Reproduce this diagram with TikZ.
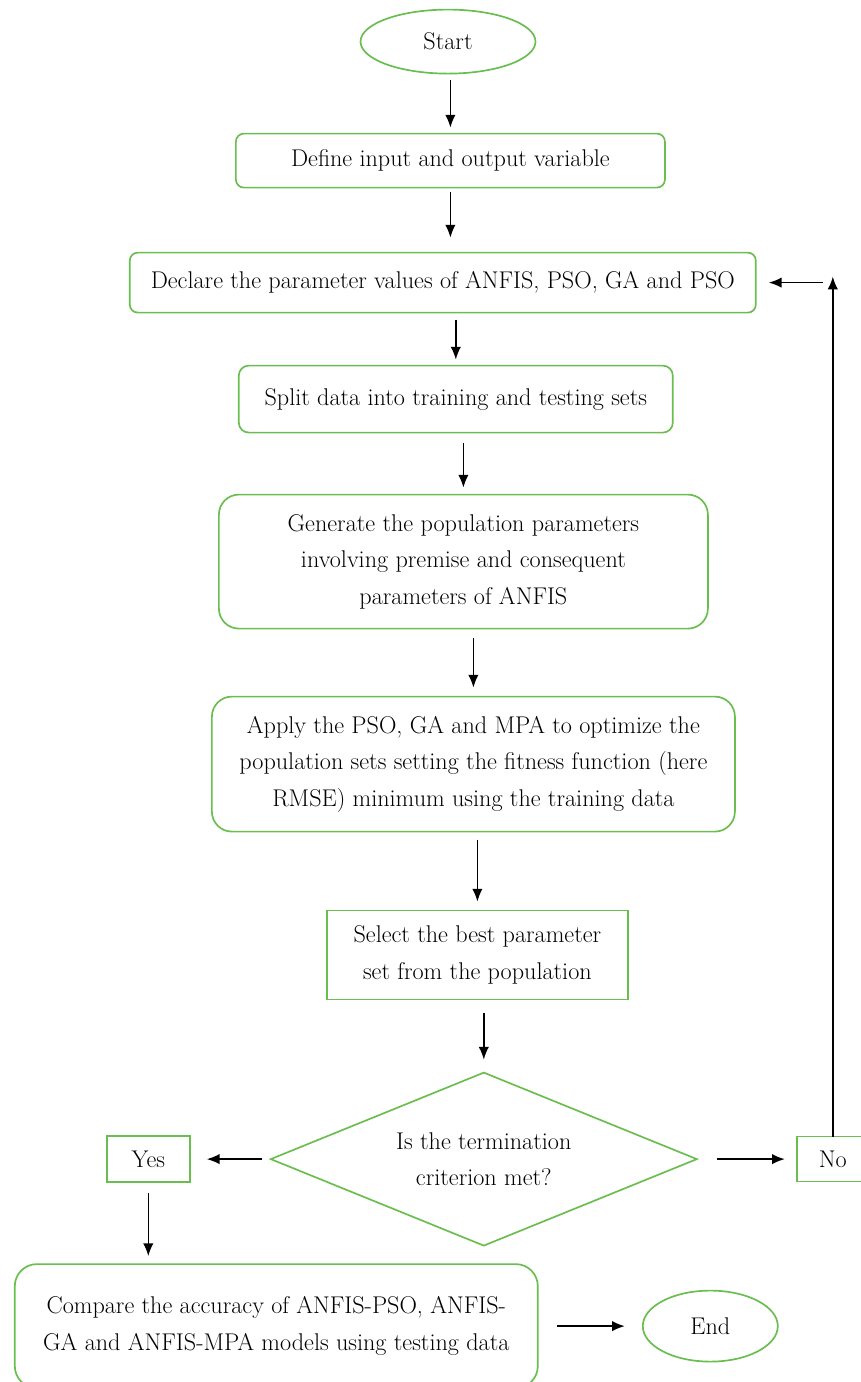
\documentclass[tikz,border=0pt]{standalone}
\usepackage{tikz}
\usetikzlibrary{positioning}
\usetikzlibrary{arrows.meta}
\usetikzlibrary{shapes.geometric}
\definecolor{boxgreen}{RGB}{106,190,80}

\begin{document}
\begin{tikzpicture}[font=\fontsize{17.2}{26}\selectfont,
  terminal/.style={ellipse, draw=boxgreen, line width=1.2pt, inner sep=0pt, outer sep=0pt},
  process/.style={rectangle, rounded corners=0.2cm, draw=boxgreen, line width=1.2pt, inner sep=0pt, outer sep=0pt, align=center},
  plainbox/.style={rectangle, draw=boxgreen, line width=1.2pt, inner sep=0pt, outer sep=0pt, align=center},
  decision/.style={diamond, draw=boxgreen, line width=1.2pt, inner sep=0pt, outer sep=0pt, align=center},
  flow/.style={line width=1.1pt, -{Latex[length=3.2mm,width=2.6mm]}}]
\useasboundingbox (0,0) rectangle (21.5,-34.55);

\node (start) at (11.2,-1.04) [terminal, minimum width=4.375cm, minimum height=1.6cm]{Start};
\node (define) [process, minimum width=10.725cm, minimum height=1.35cm, below = 1.5cm of start, xshift=0.06cm]{Define input and output variable};
\node (declare) [process, minimum width=15.65cm, minimum height=1.5cm, below = 1.625cm of define, xshift=-0.19cm]{Declare the parameter values of ANFIS, PSO, GA and PSO};
\node (split) [process, rounded corners=0.25cm, minimum width=10.85cm, minimum height=1.675cm, below = 1.325cm of declare, xshift=0.325cm]{Split data into training and testing sets};
\node (generate) [process, rounded corners=0.5cm, minimum width=12.225cm, minimum height=3.35cm, below = 1.55cm of split, xshift=0.19cm]{Generate the population parameters\\involving premise and consequent\\parameters of ANFIS};
\node (apply) [process, rounded corners=0.5cm, minimum width=13.075cm, minimum height=3.375cm, below = 1.7cm of generate, xshift=0.25cm]{Apply the PSO, GA and MPA to optimize the\\population sets setting the fitness function (here\\RMSE) minimum using the training data};
\node (select) [plainbox, minimum width=7.525cm, minimum height=2.225cm, below = 1.975cm of apply, xshift=0.1cm]{Select the best parameter\\set from the population};
\node (check) [decision, aspect=2.46, minimum width=10.65cm, minimum height=4.325cm, below = 1.825cm of select, xshift=0.16cm]{Is the termination\\criterion met?};
\node (yes) [plainbox, minimum width=2.075cm, minimum height=1.15cm, left = 2.025cm of check]{Yes};
\node (no) [plainbox, minimum width=1.8cm, minimum height=1.125cm, right = 2.5cm of check]{No};
\node (compare) [process, rounded corners=0.55cm, minimum width=13.075cm, minimum height=3.1cm, below = 2.05cm of yes, xshift=3.2cm]{Compare the accuracy of ANFIS-PSO, ANFIS-\\GA and ANFIS-MPA models using testing data};
\node (finish) [terminal, minimum width=3.375cm, minimum height=1.775cm, right = 2.625cm of compare]{End};

\draw [flow, shorten <=0.16cm, shorten >=0.15cm] (define.north |- start.south) -- (define.north);
\draw [flow, shorten <=0.1cm, shorten >=0.375cm] (define.south) -- (define.south |- declare.north);
\draw [flow, shorten <=0.175cm, shorten >=0.15cm] (split.north |- declare.south) -- (split.north);
\draw [flow, shorten <=0.25cm, shorten >=0.175cm] (generate.north |- split.south) -- (generate.north);
\draw [flow, shorten <=0.225cm, shorten >=0.225cm] (apply.north |- generate.south) -- (apply.north);
\draw [flow, shorten <=0.2cm, shorten >=0.225cm] (select.north |- apply.south) -- (select.north);
\draw [flow, shorten <=0.325cm, shorten >=0.325cm] (check.north |- select.south) -- (check.north);
\draw [flow, shorten <=0.225cm, shorten >=0.425cm] (check.west) -- (yes.east);
\draw [flow, shorten <=0.5cm, shorten >=0.3cm] (check.east) -- (no.west);
\draw [flow, shorten <=0.275cm, shorten >=0.2cm] (yes.south) -- (yes.south |- compare.north);
\draw [flow, shorten <=0.475cm, shorten >=0.45cm] (compare.east) -- (finish.west);

% back to the parameters when No
\coordinate (corner) at (no.north |- declare.east);
\draw [flow] (no.north) -- ([yshift=0.15cm]corner);
\draw [flow, shorten <=0.25cm, shorten >=0.325cm] (corner) -- (declare.east);

\end{tikzpicture}
\end{document}
